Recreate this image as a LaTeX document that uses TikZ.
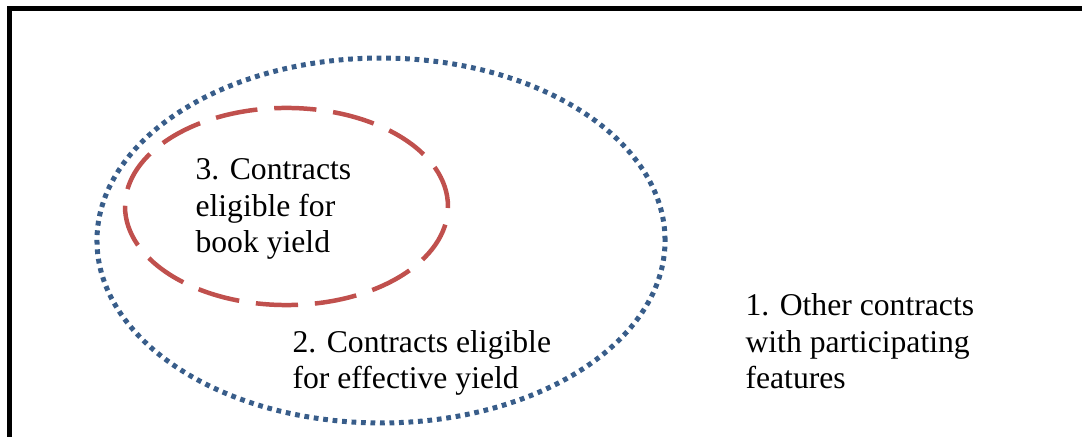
\documentclass[tikz,border=0pt]{standalone}
\usepackage{fontspec}
\setmainfont{Liberation Serif}
\usetikzlibrary{shapes.geometric}

\definecolor{effblue}{RGB}{56,93,138}
\definecolor{bookred}{RGB}{192,80,77}

\tikzset{
  label text/.style={align=left, inner sep=0pt, anchor=base west,
    font=\fontsize{12pt}{13.9pt}\selectfont},
  set line/.style={ellipse, inner sep=0pt},
}

\begin{document}
\begin{tikzpicture}[x=0.379pt,y=-0.379pt]

\useasboundingbox (0,0) rectangle (1082,437);
\clip (0,0) rectangle (1082,437);

\draw [line width=1.9pt] (9.5,8.5) rectangle (1100,460);

\node (eff) at (381,240.5) [set line, draw=effblue, line width=1.9pt,
  dash pattern=on 1.8pt off 1.8pt,
  minimum width=215.3pt, minimum height=138.3pt] {};
\node (book) at (286.5,206.5) [set line, draw=bookred, line width=1.7pt,
  dash pattern=on 16pt off 6.4pt,
  minimum width=122.4pt, minimum height=74.7pt] {};

% base anchor sits on the last line
\node (booktext) at (195,253) [label text] {3. Contracts\\eligible for\\book yield};
\node (efftext) at (292,389) [label text] {2. Contracts eligible\\for effective yield};
\node (othertext) at (745,389) [label text] {1. Other contracts\\with participating\\features};

\end{tikzpicture}
\end{document}
